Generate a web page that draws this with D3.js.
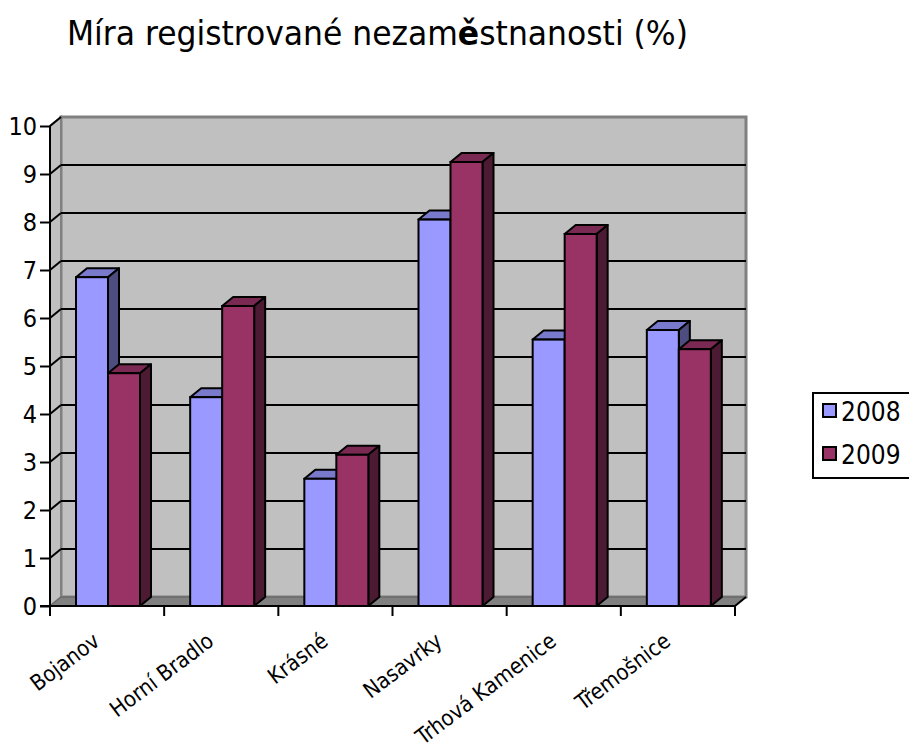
<!DOCTYPE html>
<html>
<head>
<meta charset="utf-8">
<script src="https://cdn.jsdelivr.net/npm/d3@7"></script>
<style>
  body { margin: 0; background: #fff; }
  text { font-family: "DejaVu Sans Condensed", "DejaVu Sans", Tahoma, sans-serif; }
</style>
</head>
<body>
<div id="chart"></div>
<script>
// data
var categories = ["Bojanov", "Horní Bradlo", "Krásné", "Nasavrky", "Trhová Kamenice", "Třemošnice"];
var seriesNames = ["2008", "2009"];
var values2008 = [6.85, 4.35, 2.65, 8.05, 5.55, 5.75];
var values2009 = [4.85, 6.25, 3.15, 9.25, 7.75, 5.35];
var yTicks = [0, 1, 2, 3, 4, 5, 6, 7, 8, 9, 10];

var width = 909, height = 751;
var depthX = 11, depthY = -9;

var colors = {
  "2008": { front: "#9999FF", top: "#7A7ACC", side: "#4D4D80" },
  "2009": { front: "#993366", top: "#7A2952", side: "#4D1A33" }
};

var svg = d3.select("#chart").append("svg")
  .attr("width", width)
  .attr("height", height);

var y = d3.scaleLinear().domain([0, 10]).range([606, 126]);
var x = d3.scaleBand().domain(categories).range([50, 735]);
var xInner = d3.scaleBand().domain(seriesNames).range([0, 64]);

var left = x.range()[0], right = x.range()[1];

var dataset = [];
categories.forEach(function(c, i) {
  dataset.push({ cat: c, series: "2008", value: values2008[i] });
  dataset.push({ cat: c, series: "2009", value: values2009[i] });
});

// title (the "ě" is drawn bold in the original)
var title = svg.append("text")
  .attr("x", 67)
  .attr("y", 45)
  .attr("font-size", 34)
  .attr("textLength", 621)
  .attr("lengthAdjust", "spacingAndGlyphs");
title.append("tspan").text("Míra registrované nezam");
title.append("tspan").attr("font-weight", "bold").text("ě");
title.append("tspan").text("stnanosti (%)");

// back wall
svg.append("rect")
  .attr("x", left + depthX)
  .attr("y", y(10) + depthY)
  .attr("width", right - left)
  .attr("height", y(0) - y(10))
  .attr("fill", "#C0C0C0")
  .attr("stroke", "#808080")
  .attr("stroke-width", 3);

// side wall
svg.append("path")
  .attr("d", "M" + left + "," + y(0) + "L" + left + "," + y(10) +
    "L" + (left + depthX) + "," + (y(10) + depthY) +
    "L" + (left + depthX) + "," + (y(0) + depthY) + "Z")
  .attr("fill", "#C0C0C0")
  .attr("stroke", "#808080")
  .attr("stroke-width", 2);

// floor
svg.append("path")
  .attr("d", "M" + left + "," + y(0) + "L" + right + "," + y(0) +
    "L" + (right + depthX) + "," + (y(0) + depthY) +
    "L" + (left + depthX) + "," + (y(0) + depthY) + "Z")
  .attr("fill", "#808080")
  .attr("stroke", "#606060")
  .attr("stroke-width", 1);

// gridlines on the back wall
svg.selectAll(".grid")
  .data(yTicks.filter(function(d) { return d > 0 && d < 10; }))
  .enter()
  .append("line")
  .attr("class", "grid")
  .attr("x1", left + depthX)
  .attr("x2", right + depthX)
  .attr("y1", function(d) { return y(d) + depthY; })
  .attr("y2", function(d) { return y(d) + depthY; })
  .attr("stroke", "#000")
  .attr("stroke-width", 2);

// gridlines on the side wall
svg.selectAll(".sidegrid")
  .data(yTicks.filter(function(d) { return d > 0; }))
  .enter()
  .append("line")
  .attr("class", "sidegrid")
  .attr("x1", left)
  .attr("x2", left + depthX)
  .attr("y1", function(d) { return y(d); })
  .attr("y2", function(d) { return y(d) + depthY; })
  .attr("stroke", "#000")
  .attr("stroke-width", 2);

// bars
var bars = svg.selectAll(".bar")
  .data(dataset)
  .enter()
  .append("g")
  .attr("class", "bar");

function barX(d) {
  return x(d.cat) + 26 + xInner(d.series);
}

bars.append("path")
  .attr("d", function(d) {
    var x0 = barX(d), x1 = x0 + xInner.bandwidth(), yt = y(d.value);
    return "M" + x0 + "," + yt + "L" + (x0 + depthX) + "," + (yt + depthY) +
      "L" + (x1 + depthX) + "," + (yt + depthY) + "L" + x1 + "," + yt + "Z";
  })
  .attr("fill", function(d) { return colors[d.series].top; })
  .attr("stroke", "#000")
  .attr("stroke-width", 2)
  .attr("stroke-linejoin", "round");

bars.append("path")
  .attr("d", function(d) {
    var x1 = barX(d) + xInner.bandwidth(), yt = y(d.value), yb = y(0);
    return "M" + x1 + "," + yt + "L" + (x1 + depthX) + "," + (yt + depthY) +
      "L" + (x1 + depthX) + "," + (yb + depthY) + "L" + x1 + "," + yb + "Z";
  })
  .attr("fill", function(d) { return colors[d.series].side; })
  .attr("stroke", "#000")
  .attr("stroke-width", 2)
  .attr("stroke-linejoin", "round");

bars.append("rect")
  .attr("x", barX)
  .attr("y", function(d) { return y(d.value); })
  .attr("width", xInner.bandwidth())
  .attr("height", function(d) { return y(0) - y(d.value); })
  .attr("fill", function(d) { return colors[d.series].front; })
  .attr("stroke", "#000")
  .attr("stroke-width", 2);

// y axis
var yAxis = svg.append("g")
  .attr("transform", "translate(" + left + ",0)")
  .call(d3.axisLeft(y).tickValues(yTicks).tickSize(10).tickPadding(3).tickFormat(d3.format("d")));
yAxis.selectAll("line").attr("stroke", "#000").attr("stroke-width", 2);
yAxis.select(".domain").attr("stroke", "#000").attr("stroke-width", 2)
  .attr("d", "M0," + y(0) + "V" + y(10));
yAxis.selectAll("text")
  .attr("font-size", 25)
  .attr("fill", "#000");

// x axis (ticks between categories)
var xEdges = categories.map(function(c) { return x(c); }).concat([right]);
svg.append("line")
  .attr("x1", left - 10).attr("x2", right)
  .attr("y1", y(0)).attr("y2", y(0))
  .attr("stroke", "#000").attr("stroke-width", 2);
svg.append("line")
  .attr("x1", right).attr("x2", right + depthX)
  .attr("y1", y(0)).attr("y2", y(0) + depthY)
  .attr("stroke", "#000").attr("stroke-width", 2);
svg.selectAll(".xtick")
  .data(xEdges)
  .enter()
  .append("line")
  .attr("class", "xtick")
  .attr("x1", function(d) { return d; })
  .attr("x2", function(d) { return d; })
  .attr("y1", y(0))
  .attr("y2", y(0) + 10)
  .attr("stroke", "#000")
  .attr("stroke-width", 2);

svg.selectAll(".xlabel")
  .data(categories)
  .enter()
  .append("text")
  .attr("class", "xlabel")
  .attr("text-anchor", "end")
  .attr("font-size", 22)
  .attr("transform", function(d) {
    return "translate(" + (x(d) + x.bandwidth() / 2 - 6) + "," + 644 + ") rotate(-37)";
  })
  .text(function(d) { return d; });

// legend
var legend = svg.append("g");
legend.append("rect")
  .attr("x", 813).attr("y", 393)
  .attr("width", 120).attr("height", 85)
  .attr("fill", "#fff")
  .attr("stroke", "#000")
  .attr("stroke-width", 2);

var legendItems = legend.selectAll(".legendItem")
  .data(seriesNames)
  .enter()
  .append("g")
  .attr("class", "legendItem")
  .attr("transform", function(d, i) { return "translate(823," + (404 + i * 43) + ")"; });

legendItems.append("rect")
  .attr("width", 13).attr("height", 13)
  .attr("fill", function(d) { return colors[d].front; })
  .attr("stroke", "#000")
  .attr("stroke-width", 2);

legendItems.append("text")
  .attr("x", 18)
  .attr("y", 17)
  .attr("font-size", 26)
  .text(function(d) { return d; });
</script>
</body>
</html>
